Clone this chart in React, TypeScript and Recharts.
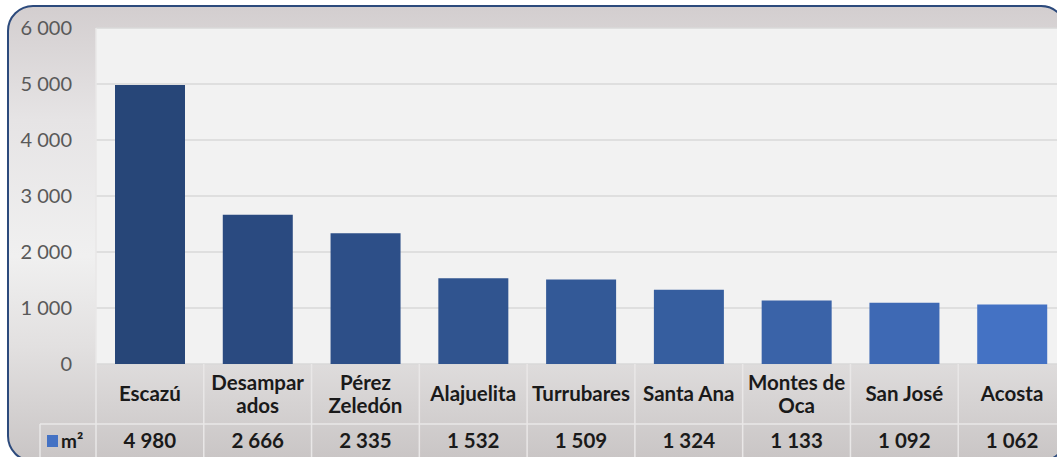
import { BarChart, Bar, Cell, XAxis, YAxis, CartesianGrid } from 'recharts';

// municipalities, split the way the table cells wrap them
const labelLines = [
  ['Escazú'],
  ['Desampar', 'ados'],
  ['Pérez', 'Zeledón'],
  ['Alajuelita'],
  ['Turrubares'],
  ['Santa Ana'],
  ['Montes de', 'Oca'],
  ['San José'],
  ['Acosta']
];
const areas = [4980, 2666, 2335, 1532, 1509, 1324, 1133, 1092, 1062];
const yTicks = [0, 1000, 2000, 3000, 4000, 5000, 6000];
const seriesName = 'm²';

const barColors = [
  '#274678',
  '#2a4a80',
  '#2d4f88',
  '#30548f',
  '#335997',
  '#365e9f',
  '#3a63a8',
  '#3e69b4',
  '#4472c4'
];

const data = labelLines.map((lines, i) => ({
  name: lines.join(''),
  value: areas[i]
}));

const W = 1057;
const H = 457;
const CHART_W = 1066;
const PLOT_LEFT = 96;
const PLOT_TOP = 28;
const PLOT_BOTTOM = 364;
const ROW_SPLIT = 424;
const FONT = 'Lato, "Open Sans", sans-serif';
const LINE = '#e9e7e7';
const TXT = 20.5;

const fmt = (v: number) => String(v).replace(/\B(?=(\d{3})+(?!\d))/g, ' ');

const YTick = (props: any) => {
  const { y, payload } = props;
  return (
    <text
      x={72}
      y={y}
      dy={7}
      textAnchor="end"
      fill="#595959"
      fontSize={20}
      fontFamily={FONT}
    >
      {fmt(payload.value)}
    </text>
  );
};

// each tick draws one column of the data table underneath the plot
const TableTick = (props: any) => {
  const { x, payload, index } = props;
  const half = payload.offset || (CHART_W - PLOT_LEFT) / 18;
  const lines = labelLines[index] || [payload.value];
  const left = x - half;
  const midY = (PLOT_BOTTOM + ROW_SPLIT) / 2;
  return (
    <g>
      <line x1={left} x2={left} y1={PLOT_BOTTOM} y2={H} stroke={LINE} strokeWidth={1.5} />
      {index === 0 && (
        <g>
          <line x1={40} x2={40} y1={ROW_SPLIT} y2={H} stroke={LINE} strokeWidth={1.5} />
          <line x1={40} x2={CHART_W} y1={ROW_SPLIT} y2={ROW_SPLIT} stroke={LINE} strokeWidth={1.5} />
          <rect x={47} y={435} width={11} height={12} fill="#4472c4" />
          <text x={61} y={448} fontSize={19} fontWeight={700} fill="#1a1a1a" fontFamily={FONT}>
            {seriesName}
          </text>
        </g>
      )}
      {lines.map((l: string, i: number) => (
        <text
          key={i}
          x={x}
          y={midY + (i - (lines.length - 1) / 2) * 23}
          dy={7}
          textAnchor="middle"
          fontSize={TXT}
          fontWeight={700}
          fill="#1a1a1a"
          fontFamily={FONT}
        >
          {l}
        </text>
      ))}
      <text
        x={x}
        y={441}
        dy={7}
        textAnchor="middle"
        fontSize={TXT}
        fontWeight={700}
        fill="#1a1a1a"
        fontFamily={FONT}
      >
        {fmt(areas[index])}
      </text>
    </g>
  );
};

export default function App() {
  return (
    <div
      style={{
        position: 'absolute',
        left: 0,
        top: 0,
        width: W,
        height: H,
        overflow: 'hidden',
        background: '#ffffff'
      }}
    >
      <div
        style={{
          position: 'absolute',
          left: 7,
          top: 5,
          width: 1060,
          height: 457,
          boxSizing: 'border-box',
          border: '2px solid #2c4a7c',
          borderRadius: 26,
          background:
            'linear-gradient(to bottom, #d3cecf 0%, #e6e4e5 25%, #f0f0f0 55%, #e2e0e0 75%, #c9c5c5 100%)'
        }}
      />
      <div style={{ position: 'absolute', left: 0, top: 0 }}>
        <BarChart
          width={CHART_W}
          height={H}
          data={data}
          margin={{ top: PLOT_TOP, right: 0, bottom: 0, left: 0 }}
        >
          <CartesianGrid
            vertical={false}
            stroke="#d9d9d9"
            strokeWidth={1.5}
            fill="#f2f2f2"
          />
          <YAxis
            width={PLOT_LEFT}
            domain={[0, 6000]}
            ticks={yTicks}
            interval={0}
            axisLine={{ stroke: LINE, strokeWidth: 1.5 }}
            tickLine={false}
            tick={<YTick />}
          />
          <XAxis
            dataKey="name"
            height={H - PLOT_BOTTOM}
            interval={0}
            axisLine={false}
            tickLine={false}
            tick={<TableTick />}
          />
          <Bar dataKey="value" barSize={70} isAnimationActive={false}>
            {data.map((_, i) => (
              <Cell key={`c-${i}`} fill={barColors[i]} />
            ))}
          </Bar>
        </BarChart>
      </div>
    </div>
  );
}
